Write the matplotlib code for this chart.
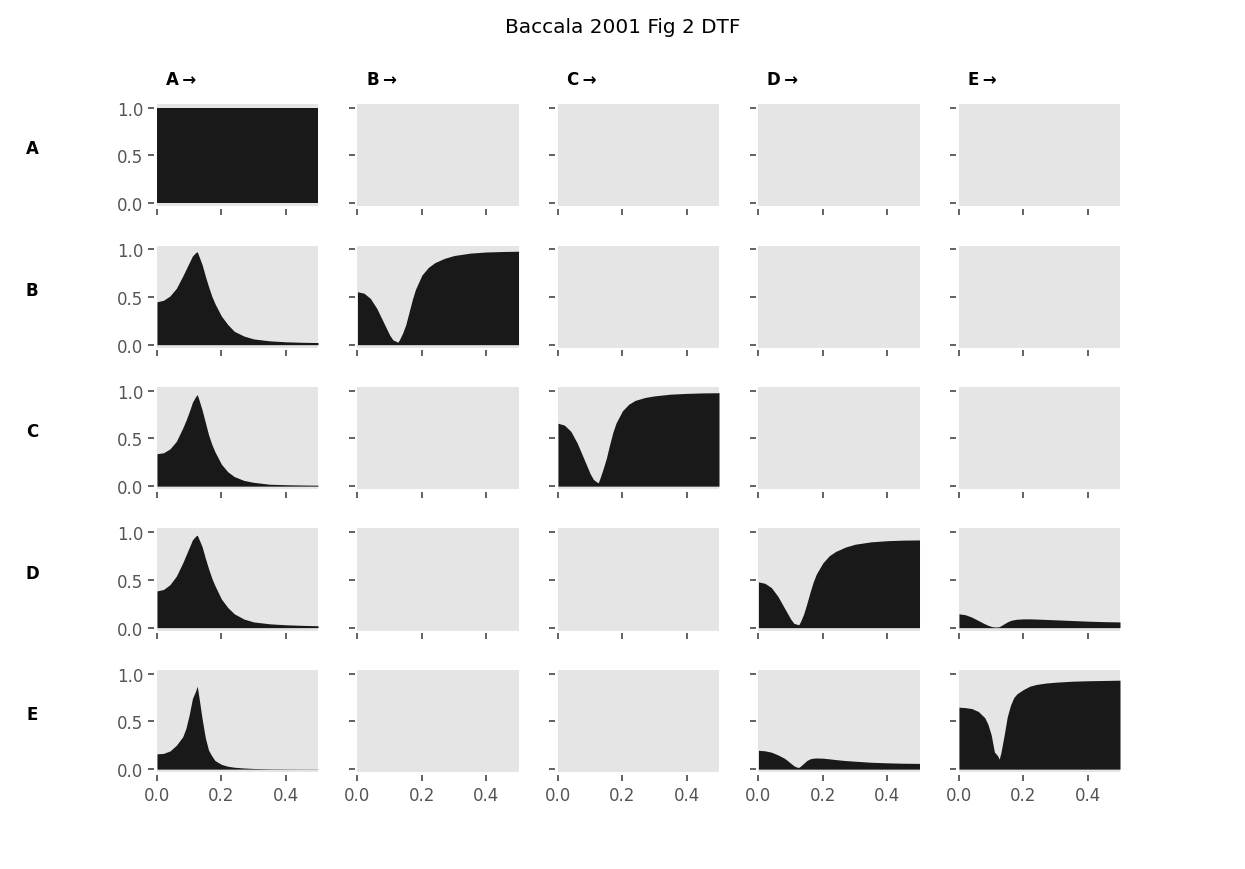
import matplotlib
matplotlib.use("Agg")
import matplotlib.pyplot as plt

# channel names
names = ["A", "B", "C", "D", "E"]

# normalised frequency
freq = [0, 0.02, 0.04, 0.06, 0.08, 0.09, 0.10, 0.11, 0.12, 0.125, 0.13, 0.14, 0.15,
        0.16, 0.17, 0.18, 0.20, 0.22, 0.24, 0.27, 0.30, 0.35, 0.40, 0.45, 0.50]

# DTF values, key is (row, column) = (to, from)
aa = [1.0] * len(freq)
ba = [0.45, 0.465, 0.51, 0.59, 0.72, 0.79, 0.86, 0.93, 0.965, 0.975, 0.93, 0.84, 0.72,
      0.61, 0.51, 0.43, 0.30, 0.21, 0.14, 0.09, 0.06, 0.04, 0.03, 0.025, 0.022]
bb = [0.555, 0.54, 0.485, 0.38, 0.24, 0.17, 0.10, 0.05, 0.035, 0.025, 0.05, 0.12, 0.21,
      0.34, 0.47, 0.58, 0.73, 0.81, 0.86, 0.905, 0.935, 0.96, 0.972, 0.977, 0.98]
ca = [0.34, 0.35, 0.39, 0.47, 0.61, 0.69, 0.78, 0.88, 0.94, 0.96, 0.91, 0.80, 0.67,
      0.54, 0.44, 0.36, 0.23, 0.15, 0.10, 0.06, 0.04, 0.02, 0.015, 0.012, 0.01]
cc = [0.66, 0.64, 0.575, 0.45, 0.29, 0.21, 0.13, 0.07, 0.045, 0.035, 0.08, 0.18, 0.29,
      0.43, 0.56, 0.66, 0.79, 0.86, 0.90, 0.93, 0.947, 0.965, 0.973, 0.978, 0.98]
da = [0.385, 0.40, 0.45, 0.54, 0.68, 0.76, 0.84, 0.92, 0.96, 0.97, 0.93, 0.85, 0.73,
      0.62, 0.52, 0.44, 0.30, 0.21, 0.145, 0.09, 0.06, 0.04, 0.03, 0.024, 0.02]
dd = [0.48, 0.465, 0.42, 0.33, 0.21, 0.15, 0.09, 0.045, 0.035, 0.03, 0.06, 0.14, 0.25,
      0.37, 0.48, 0.565, 0.68, 0.755, 0.80, 0.845, 0.875, 0.90, 0.912, 0.918, 0.92]
de = [0.145, 0.135, 0.11, 0.075, 0.04, 0.025, 0.013, 0.007, 0.008, 0.01, 0.02, 0.04, 0.06,
      0.075, 0.083, 0.088, 0.092, 0.092, 0.09, 0.086, 0.082, 0.075, 0.068, 0.063, 0.06]
ea = [0.16, 0.165, 0.19, 0.25, 0.34, 0.43, 0.57, 0.74, 0.82, 0.87, 0.76, 0.53, 0.33,
      0.20, 0.14, 0.09, 0.05, 0.03, 0.02, 0.012, 0.007, 0.004, 0.003, 0.002, 0.002]
ed = [0.198, 0.192, 0.178, 0.15, 0.115, 0.09, 0.062, 0.035, 0.02, 0.018, 0.03, 0.06, 0.09,
      0.108, 0.115, 0.117, 0.115, 0.108, 0.10, 0.09, 0.083, 0.072, 0.066, 0.062, 0.06]
ee = [0.65, 0.645, 0.635, 0.605, 0.54, 0.47, 0.36, 0.18, 0.14, 0.105, 0.17, 0.35, 0.55,
      0.67, 0.75, 0.79, 0.835, 0.87, 0.888, 0.903, 0.912, 0.922, 0.927, 0.93, 0.933]

dtf = {(0, 0): aa, (1, 0): ba, (1, 1): bb, (2, 0): ca, (2, 2): cc, (3, 0): da,
       (3, 3): dd, (3, 4): de, (4, 0): ea, (4, 3): ed, (4, 4): ee}

fig, axes = plt.subplots(5, 5, figsize=(12.45, 8.7), dpi=100)
fig.subplots_adjust(left=0.1261, right=0.8996, top=0.8793, bottom=0.1115,
                    wspace=0.245, hspace=0.387)

for i in range(5):
    for j in range(5):
        ax = axes[i, j]
        ax.set_facecolor("#e5e5e5")
        vals = dtf.get((i, j), [0.0] * len(freq))
        ax.fill_between(freq, 0, vals, color="#191919", linewidth=0)
        ax.set_xlim(0, 0.5)
        ax.set_ylim(-0.03, 1.04)
        ax.set_xticks([0, 0.2, 0.4])
        ax.set_yticks([0, 0.5, 1.0])
        for side in ["left", "bottom"]:
            ax.spines[side].set_position(("outward", 2))
        for s in ax.spines.values():
            s.set_visible(False)
        ax.tick_params(direction="out", length=4.3, width=1.3, color="#555555",
                       labelcolor="#555555", labelsize=12)
        if j > 0:
            ax.set_yticklabels([])
        else:
            ax.set_yticklabels(["0.0", "0.5", "1.0"])
        if i < 4:
            ax.set_xticklabels([])
        else:
            ax.set_xticklabels(["0.0", "0.2", "0.4"])
        # column headers and row labels
        if i == 0:
            ax.text(0.056, 1.245, names[j] + "\u2009\u2192", transform=ax.transAxes,
                    fontsize=12, fontweight="bold", ha="left", va="center")
        if j == 0:
            ax.text(-0.776, 0.565, names[i], transform=ax.transAxes,
                    fontsize=12, fontweight="bold", ha="center", va="center")

fig.suptitle("Baccala 2001 Fig 2 DTF", fontsize=14.4, y=0.979)

plt.savefig("out.png", dpi=100)
